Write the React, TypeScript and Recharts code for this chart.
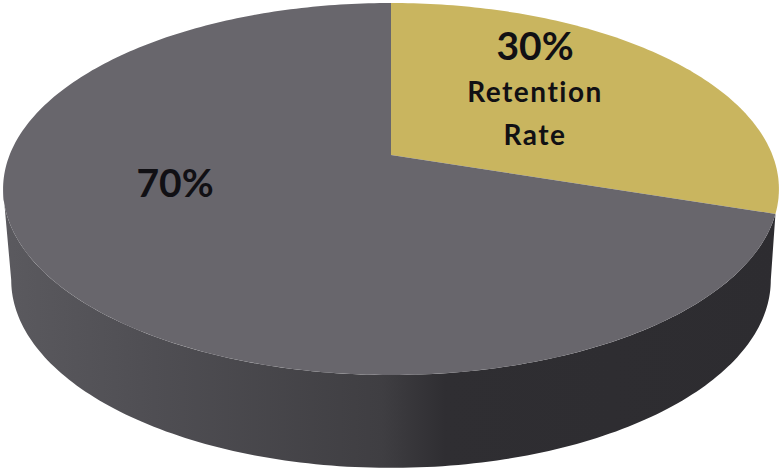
import React from 'react';
import { PieChart, Pie, Cell } from 'recharts';

const sliceNames = ['Retention Rate', ''];
const sliceValues = [30, 70];
const sliceColors = ['#c9b55f', '#68666c'];

const WIDTH = 780;
const HEIGHT = 472;
const CX = 391;
const CY = 155;

// tilted disc: the centre sits above the middle of the ellipse, so use a small perspective
const TILT = -0.1828;
const SCALE_X = 381.4;
const SCALE_Y = 179.8;
const ELLIPSE_MID_Y = 189;

// the wall stops where the top and bottom outlines are widest
const WALL_RIGHT = 100.5;
const WALL_LEFT = 259.5;

const project = (deg: number, cx: number, cy: number) => {
  const rad = (deg * Math.PI) / 180;
  const u = Math.sin(rad);
  const v = -Math.cos(rad);
  const w = 1 + TILT * v;
  return { x: cx + (SCALE_X * u) / w, y: cy + (SCALE_Y * v) / w };
};

const lowerEdge = (deg: number, cx: number, cy: number) => {
  const p = project(deg, cx, cy);
  return { x: cx + (p.x - cx) * 0.979, y: 280 + (p.y - ELLIPSE_MID_Y) * 1.01 };
};

const sweep = (from: number, to: number) => {
  const out: number[] = [];
  const steps = Math.max(2, Math.round(Math.abs(to - from)));
  for (let i = 0; i <= steps; i++) out.push(from + ((to - from) * i) / steps);
  return out;
};

const toPath = (pts: { x: number; y: number }[]) =>
  'M' + pts.map((p) => `${p.x.toFixed(2)},${p.y.toFixed(2)}`).join('L') + 'Z';

const DiscSlice = (props: any) => {
  const { cx, cy, startAngle, endAngle, fill } = props;
  const from = 90 - startAngle;
  const to = 90 - endAngle;
  const top = sweep(from, to).map((d) => project(d, cx, cy));
  const hasWall = to > 180;
  const wallStart = Math.max(from, 0);
  const wall = hasWall
    ? [
        ...sweep(wallStart, WALL_LEFT).map((d) => project(d, cx, cy)),
        ...sweep(WALL_LEFT, WALL_RIGHT).map((d) => lowerEdge(d, cx, cy)),
      ]
    : null;
  return (
    <g>
      {wall && <path d={toPath(wall)} fill="url(#wallShade)" />}
      <path d={toPath([{ x: cx, y: cy }, ...top])} fill={fill} />
    </g>
  );
};

const labelSpots = [
  { x: 144, y: -95 },
  { x: -216, y: 42 },
];

const SliceLabel = (props: any) => {
  const { cx, cy, index, value } = props;
  const spot = labelSpots[index];
  const x = cx + spot.x;
  const y = cy + spot.y;
  const words = sliceNames[index] ? sliceNames[index].split(' ') : [];
  return (
    <text textAnchor="middle" fill="#111014" fontFamily="Lato" fontWeight={700}>
      <tspan x={x} y={y} fontSize={39}>{`${value}%`}</tspan>
      {words.map((w, i) => (
        <tspan key={w} x={x} y={y + 42 + i * 43} fontSize={28} letterSpacing={1.5}>
          {w}
        </tspan>
      ))}
    </text>
  );
};

const tableData = sliceNames.map((name, i) => ({ name, value: sliceValues[i] }));

export default function App() {
  return (
    <div style={{ position: 'absolute', left: 0, top: 0, width: WIDTH, height: HEIGHT }}>
      <PieChart width={WIDTH} height={HEIGHT} margin={{ top: 0, right: 0, bottom: 0, left: 0 }}>
        <defs>
          <linearGradient id="wallShade" gradientUnits="userSpaceOnUse" x1="0" y1="0" x2={WIDTH} y2="0">
            <stop offset="0" stopColor="#5b5a5f" />
            <stop offset="0.18" stopColor="#504f54" />
            <stop offset="0.49" stopColor="#3f3e42" />
            <stop offset="0.57" stopColor="#2f2e32" />
            <stop offset="1" stopColor="#2d2c30" />
          </linearGradient>
        </defs>
        <Pie
          data={tableData}
          dataKey="value"
          cx={CX}
          cy={CY}
          outerRadius={388}
          startAngle={90}
          endAngle={-270}
          stroke="none"
          shape={DiscSlice}
          label={SliceLabel}
          labelLine={false}
          isAnimationActive={false}
        >
          {tableData.map((entry, index) => (
            <Cell key={`cell-${index}`} fill={sliceColors[index]} />
          ))}
        </Pie>
      </PieChart>
    </div>
  );
}
